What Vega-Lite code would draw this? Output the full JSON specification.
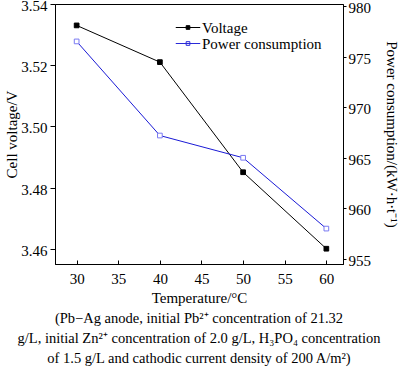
{
  "$schema": "https://vega.github.io/schema/vega-lite/v6.json",
  "width": 288,
  "height": 260,
  "autosize": {"type": "none"},
  "padding": {"left": 55, "top": 4, "right": 57, "bottom": 105},
  "background": "white",
  "config": {
    "font": "Liberation Serif",
    "view": {"stroke": "black", "strokeWidth": 1},
    "axis": {
      "grid": false,
      "domainColor": "black",
      "tickColor": "black",
      "labelColor": "black",
      "titleColor": "black",
      "labelFont": "Liberation Serif",
      "titleFont": "Liberation Serif",
      "labelFontSize": 15,
      "titleFontSize": 15,
      "titleFontWeight": "normal"
    },
    "legend": {
      "labelFont": "Liberation Serif",
      "labelFontSize": 15,
      "labelColor": "black"
    }
  },
  "title": {
    "text": [
      "(Pb−Ag anode, initial Pb²⁺ concentration of 21.32",
      "g/L, initial Zn²⁺ concentration of 2.0 g/L, H₃PO₄ concentration",
      "of 1.5 g/L and cathodic current density of 200 A/m²)"
    ],
    "orient": "bottom",
    "anchor": "middle",
    "font": "Liberation Serif",
    "fontSize": 14.5,
    "fontWeight": "normal",
    "color": "black",
    "lineHeight": 20,
    "offset": 7
  },
  "data": {
    "values": [
      {"t": 30, "series": "Voltage", "v": 3.533},
      {"t": 40, "series": "Voltage", "v": 3.521},
      {"t": 50, "series": "Voltage", "v": 3.485},
      {"t": 60, "series": "Voltage", "v": 3.46},
      {"t": 30, "series": "Power consumption", "v": 976.5},
      {"t": 40, "series": "Power consumption", "v": 967.2},
      {"t": 50, "series": "Power consumption", "v": 965.0},
      {"t": 60, "series": "Power consumption", "v": 958.0}
    ]
  },
  "encoding": {
    "x": {
      "field": "t",
      "type": "quantitative",
      "scale": {"domain": [27.4, 62], "nice": false, "zero": false},
      "axis": {
        "values": [30, 35, 40, 45, 50, 55, 60],
        "title": "Temperature/°C",
        "tickSize": -4,
        "labelPadding": 11,
        "titlePadding": 4
      }
    }
  },
  "layer": [
    {
      "transform": [{"filter": "datum.series === 'Voltage'"}],
      "encoding": {
        "y": {
          "field": "v",
          "type": "quantitative",
          "scale": {"domain": [3.455, 3.54], "nice": false, "zero": false},
          "axis": {
            "orient": "left",
            "values": [3.46, 3.48, 3.5, 3.52, 3.54],
            "format": ".2f",
            "title": "Cell voltage/V",
            "tickSize": 5,
            "labelPadding": 3,
            "labelOffset": 1.5,
            "titlePadding": 1
          }
        }
      },
      "layer": [
        {"mark": {"type": "line", "color": "black", "strokeWidth": 1}},
        {
          "mark": {"type": "point", "shape": "square", "size": 22, "strokeWidth": 1, "opacity": 1},
          "encoding": {
            "fill": {
              "field": "series",
              "type": "nominal",
              "scale": {"domain": ["Voltage", "Power consumption"], "range": ["black", "white"]},
              "legend": {
                "title": null,
                "orient": "none",
                "legendX": 120,
                "legendY": 17,
                "padding": 0,
                "symbolType": "M-1,0H1M-0.15,-0.15H0.15V0.15H-0.15Z",
                "symbolSize": 600,
                "symbolStrokeWidth": 1,
                "symbolOpacity": 1,
                "clipHeight": 13,
                "rowPadding": 0,
                "labelOffset": 1
              }
            },
            "stroke": {
              "field": "series",
              "type": "nominal",
              "scale": {"domain": ["Voltage", "Power consumption"], "range": ["black", "#2a2ad8"]},
              "legend": {
                "title": null,
                "orient": "none",
                "legendX": 120,
                "legendY": 17,
                "padding": 0,
                "symbolType": "M-1,0H1M-0.15,-0.15H0.15V0.15H-0.15Z",
                "symbolSize": 600,
                "symbolStrokeWidth": 1,
                "symbolOpacity": 1,
                "clipHeight": 13,
                "rowPadding": 0,
                "labelOffset": 1
              }
            }
          }
        }
      ]
    },
    {
      "transform": [{"filter": "datum.series === 'Power consumption'"}],
      "encoding": {
        "y": {
          "field": "v",
          "type": "quantitative",
          "scale": {"domain": [954.5, 980.2], "nice": false, "zero": false},
          "axis": {
            "orient": "right",
            "values": [955, 960, 965, 970, 975, 980],
            "title": "Power consumption/(kW·h·t⁻¹)",
            "tickSize": 3,
            "labelPadding": 2,
            "labelOffset": 1.5,
            "titlePadding": 13
          }
        }
      },
      "layer": [
        {"mark": {"type": "line", "color": "#1a1ad6", "strokeWidth": 1}},
        {
          "mark": {"type": "point", "shape": "square", "size": 22, "strokeWidth": 1, "opacity": 1, "stroke": "#7a7af2"},
          "encoding": {
            "fill": {"field": "series", "type": "nominal"}
          }
        }
      ]
    }
  ],
  "resolve": {"scale": {"y": "independent", "fill": "shared", "stroke": "shared"}}
}
